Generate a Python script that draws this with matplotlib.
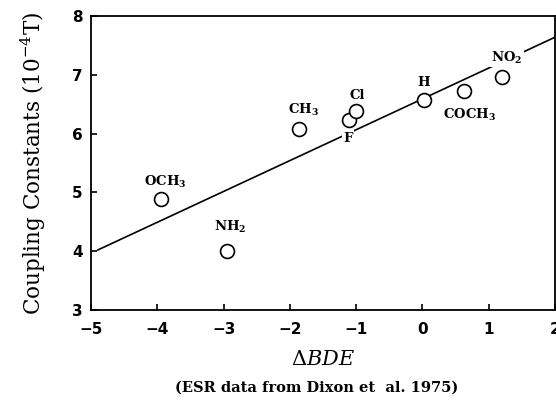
import matplotlib
matplotlib.use("Agg")
import matplotlib.pyplot as plt

# substituent data (ESR coupling constants vs delta BDE)
labels = ["OCH$_3$", "NH$_2$", "CH$_3$", "F", "Cl", "H", "COCH$_3$", "NO$_2$"]
dbde = [-3.94, -2.95, -1.86, -1.11, -1.00, 0.02, 0.63, 1.20]
coupling = [4.89, 4.00, 6.08, 6.23, 6.38, 6.57, 6.72, 6.97]

# fitted line end points
fit_x = [-4.9, 2.0]
fit_y = [4.02, 7.64]

# label offsets in pixels (dx, dy) from each circle
offsets = [(4, 17), (3, 24), (4, 19), (-1, -18), (1, 16), (0, 18), (5, -24), (5, 19)]

plt.rcParams['mathtext.fontset'] = 'dejavuserif'
plt.rcParams['mathtext.default'] = 'bf'

fig = plt.figure(figsize=(5.56, 4.03), dpi=100)
ax = fig.add_axes([0.164, 0.231, 0.834, 0.729])

ax.plot(fit_x, fit_y, color='black', lw=1.2, zorder=1)
ax.plot(dbde, coupling, 'o', ms=10, mfc='white', mec='black', mew=1.2, zorder=3)

for lab, x, y, off in zip(labels, dbde, coupling, offsets):
    ax.annotate(lab, (x, y), xytext=off, textcoords='offset pixels',
                ha='center', va='center', fontsize=9.5, fontweight='bold',
                family='DejaVu Serif', zorder=4,
                bbox=dict(boxstyle='square,pad=0.1', fc='white', ec='none'))

ax.set_xlim(-5, 2)
ax.set_ylim(3, 8)
ax.set_xticks([-5, -4, -3, -2, -1, 0, 1, 2])
ax.set_yticks([3, 4, 5, 6, 7, 8])
ax.set_xticklabels(["\u22125", "\u22124", "\u22123", "\u22122", "\u22121", "0", "1", "2"])
ax.tick_params(direction='in', length=4, width=1.2, labelsize=11, pad=6)
ax.tick_params(axis='x', pad=9)
for t in ax.get_xticklabels() + ax.get_yticklabels():
    t.set_fontweight('bold')
for s in ax.spines.values():
    s.set_linewidth(1.3)

ax.set_ylabel("Coupling Constants (10$^{\\mathrm{-4}}$T)", family='DejaVu Serif',
              fontsize=15.5, labelpad=17)
ax.set_xlabel("$\\mathit{\\Delta BDE}$", fontsize=15, labelpad=8)
fig.text(0.57, 0.037, "(ESR data from Dixon et  al. 1975)", ha='center', va='center',
         family='DejaVu Serif', fontweight='bold', fontsize=10.5)

fig.savefig("out.png", dpi=100)
